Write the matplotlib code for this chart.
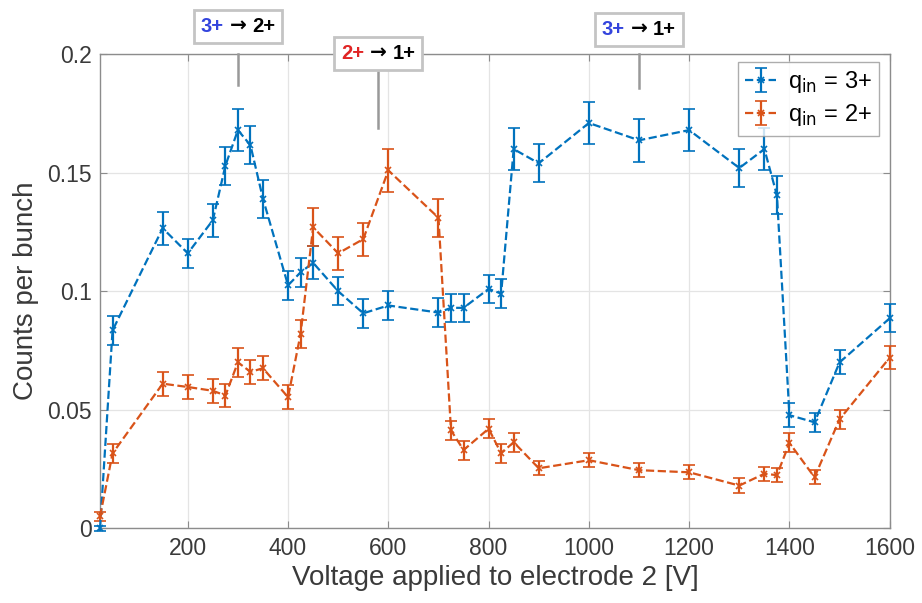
import numpy as np
import matplotlib
matplotlib.use('Agg')
import matplotlib.pyplot as plt
from matplotlib.offsetbox import TextArea, HPacker, AnnotationBbox

plt.rcParams['font.family'] = ['Liberation Sans', 'DejaVu Sans']

BLUE = '#0072BD'
ORANGE = '#D95319'

# q_in = 3+
volt_3 = [25, 50, 150, 200, 250, 275, 300, 325, 350, 400, 425, 450, 500, 550, 600,
          700, 725, 750, 800, 825, 850, 900, 1000, 1100, 1200, 1300, 1350, 1375,
          1400, 1450, 1500, 1600]
counts_3 = [0.0, 0.0835, 0.1266, 0.116, 0.130, 0.153, 0.168, 0.1616, 0.139, 0.1025,
            0.108, 0.112, 0.1000, 0.0907, 0.094, 0.091, 0.093, 0.093, 0.101, 0.099,
            0.160, 0.154, 0.171, 0.1637, 0.168, 0.152, 0.160, 0.1405,
            0.0477, 0.0447, 0.070, 0.0886]
err_3 = [0.001, 0.006, 0.007, 0.006, 0.007, 0.008, 0.009, 0.008, 0.008, 0.006,
         0.006, 0.007, 0.006, 0.006, 0.006, 0.006, 0.006, 0.006, 0.006, 0.006,
         0.009, 0.008, 0.009, 0.009, 0.009, 0.008, 0.009, 0.008,
         0.005, 0.004, 0.005, 0.006]

# q_in = 2+
volt_2 = [25, 50, 150, 200, 250, 275, 300, 325, 350, 400, 425, 450, 500, 550, 600,
          700, 725, 750, 800, 825, 850, 900, 1000, 1100, 1200, 1300, 1350, 1375,
          1400, 1450, 1500, 1600]
counts_2 = [0.005, 0.0316, 0.061, 0.0596, 0.058, 0.056, 0.070, 0.066, 0.0675, 0.0553,
            0.082, 0.127, 0.116, 0.122, 0.151, 0.131, 0.0413, 0.033, 0.042, 0.0316,
            0.0363, 0.0253, 0.0287, 0.0245, 0.0236, 0.018, 0.023, 0.0224,
            0.036, 0.0215, 0.046, 0.072]
err_2 = [0.002, 0.004, 0.005, 0.005, 0.005, 0.005, 0.006, 0.005, 0.005, 0.005,
         0.006, 0.008, 0.007, 0.007, 0.009, 0.008, 0.004, 0.004, 0.004, 0.004,
         0.004, 0.003, 0.003, 0.003, 0.003, 0.003, 0.003, 0.003,
         0.004, 0.003, 0.004, 0.005]

# transition labels: (voltage, box y, line top, line bottom, from, to, from colour)
transitions = [
    (300, 0.2118, 0.2000, 0.187, '3+', '2+', '#3344DD'),
    (580, 0.2004, 0.1925, 0.169, '2+', '1+', '#E02424'),
    (1100, 0.2105, 0.2000, 0.1857, '3+', '1+', '#3344DD'),
]

fig = plt.figure(figsize=(9.22, 6.03), dpi=100)
ax = fig.add_axes([0.1085, 0.124, 0.8565, 0.786])

for volt, cnt, err, col, lab in [(volt_3, counts_3, err_3, BLUE, r'q$_{\mathrm{in}}$ = 3+'),
                                 (volt_2, counts_2, err_2, ORANGE, r'q$_{\mathrm{in}}$ = 2+')]:
    ax.errorbar(volt, cnt, yerr=err, color=col, ls='--', lw=1.6, marker='x',
                ms=4, mew=1.2, capsize=4, elinewidth=1.6, capthick=1.6,
                label=lab, clip_on=False, zorder=3)

ax.set_xlim(25, 1600)
ax.set_ylim(0, 0.2)
ax.set_xticks([200, 400, 600, 800, 1000, 1200, 1400, 1600])
ax.set_yticks([0, 0.05, 0.1, 0.15, 0.2])
ax.set_yticklabels(['0', '0.05', '0.1', '0.15', '0.2'])
ax.grid(True, color='#e4e4e4', lw=0.9)
ax.set_axisbelow(True)
for sp in ax.spines.values():
    sp.set_color('#8c8c8c')
    sp.set_linewidth(1.0)
ax.tick_params(direction='in', length=5, color='#8c8c8c', labelsize=16.5,
               labelcolor='#3a3a3a', pad=6, top=True, right=True)
ax.set_xlabel('Voltage applied to electrode 2 [V]', fontsize=20, color='#3a3a3a',
              labelpad=4)
ax.set_ylabel('Counts per bunch', fontsize=20, color='#3a3a3a', labelpad=6)

leg = ax.legend(loc='upper right', bbox_to_anchor=(0.992, 0.993), fontsize=17,
                fancybox=False, edgecolor='#999999', handlelength=1.3,
                handletextpad=0.5, borderpad=0.3, labelspacing=0.3,
                borderaxespad=0.2)
leg.get_frame().set_linewidth(1.0)

for v, by, ltop, lbot, q_from, q_to, c_from in transitions:
    ax.plot([v, v], [ltop, lbot], color='#999999', lw=1.8, clip_on=False, zorder=4)
    bold = dict(fontsize=14.5, fontweight='bold')
    parts = HPacker(children=[
        TextArea(q_from, textprops=dict(color=c_from, **bold)),
        TextArea('\u2192', textprops=dict(color='black', family=['DejaVu Sans'], **bold)),
        TextArea(q_to, textprops=dict(color='black', **bold)),
    ], pad=0, sep=4, align='baseline')
    ab = AnnotationBbox(parts, (v, by), xycoords='data', frameon=True, pad=0.5,
                        annotation_clip=False, zorder=5,
                        bboxprops=dict(edgecolor='#c4c4c4', facecolor='white', lw=2.0))
    ax.add_artist(ab)

fig.savefig('out.png', dpi=100)
